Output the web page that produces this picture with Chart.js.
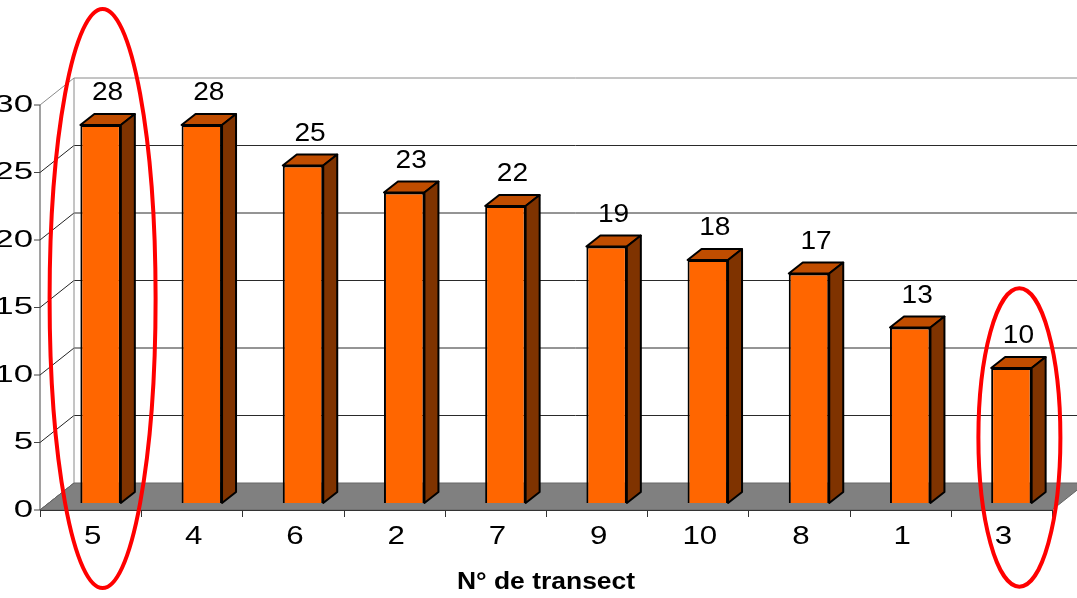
<!DOCTYPE html>
<html>
<head>
<meta charset="utf-8">
<script src="https://cdn.jsdelivr.net/npm/chart.js@4/dist/chart.umd.min.js"></script>
<style>
  html, body { margin: 0; padding: 0; background: #fff; }
  #chart { display: block; }
</style>
</head>
<body>
<canvas id="chart" width="1077" height="598"></canvas>
<script>
// transect numbers, sorted by count
const categories = ['5', '4', '6', '2', '7', '9', '10', '8', '1', '3'];
const counts = [28, 28, 25, 23, 22, 19, 18, 17, 13, 10];
const yTicks = [0, 5, 10, 15, 20, 25, 30];
const xTitle = 'N° de transect';

const FRONT = '#FF6600';
const SIDE = '#7F3300';
const TOP = '#C04D00';
const FONT = '"Liberation Sans", Arial, sans-serif';

// offsets of the front axis plane and back wall from the bar plane
const front = { dx: -10, dy: 7 };
const back = { dx: 24, dy: -20 };
const barDepth = { dx: 14, dy: 11 };

function line(ctx, x1, y1, x2, y2) {
  ctx.beginPath();
  ctx.moveTo(x1, y1);
  ctx.lineTo(x2, y2);
  ctx.stroke();
}

// Arial in the original looks stretched sideways, so scale x
function text(ctx, str, x, y, font, sx, align) {
  ctx.save();
  ctx.translate(x, y);
  ctx.scale(sx, 1);
  ctx.font = font;
  ctx.fillStyle = '#000';
  ctx.textAlign = align || 'center';
  ctx.textBaseline = 'middle';
  ctx.fillText(str, 0, 0);
  ctx.restore();
}

const box3d = {
  id: 'box3d',
  beforeDatasetsDraw(chart) {
    const { ctx, scales: { x, y } } = chart;
    const left = x.left;
    const y0 = y.getPixelForValue(0);
    const yTop = y.getPixelForValue(yTicks[yTicks.length - 1]);
    const catW = x.width / categories.length;
    ctx.save();
    ctx.lineWidth = 1;

    // back wall gridlines + left wall diagonals
    yTicks.forEach(v => {
      const py = y.getPixelForValue(v);
      ctx.strokeStyle = v === yTicks[yTicks.length - 1] ? '#8a8a8a' : '#2a2a2a';
      if (v > 0) line(ctx, left + back.dx, py + back.dy, chart.width, py + back.dy);
      ctx.strokeStyle = v === yTicks[yTicks.length - 1] ? '#8a8a8a' : '#222';
      line(ctx, left + front.dx, py + front.dy, left + back.dx, py + back.dy);
      ctx.strokeStyle = '#444';
      line(ctx, left + front.dx - 6, py + front.dy, left + front.dx, py + front.dy);
      text(ctx, String(v), left + front.dx - 7, py + front.dy, '24px ' + FONT, 1.45, 'right');
    });

    // back wall left edge
    ctx.strokeStyle = '#8a8a8a';
    line(ctx, left + back.dx, y0 + back.dy, left + back.dx, yTop + back.dy);

    // floor
    const fl = left + front.dx, fr = x.right + front.dx;
    ctx.fillStyle = '#808080';
    ctx.beginPath();
    ctx.moveTo(fl, y0 + front.dy);
    ctx.lineTo(fr, y0 + front.dy);
    ctx.lineTo(fr + back.dx - front.dx, y0 + back.dy);
    ctx.lineTo(fl + back.dx - front.dx, y0 + back.dy);
    ctx.closePath();
    ctx.fill();
    ctx.strokeStyle = '#666';
    ctx.stroke();

    // front axis
    ctx.strokeStyle = '#444';
    line(ctx, fl, y0 + front.dy, fl, yTop + front.dy);
    ctx.strokeStyle = '#333';
    line(ctx, fl, y0 + front.dy + 0.5, fr, y0 + front.dy + 0.5);

    // category ticks and labels
    for (let i = 0; i <= categories.length; i++) {
      const px = Math.round(fl + i * catW) + 0.5;
      line(ctx, px, y0 + front.dy, px, y0 + front.dy + 7);
    }
    categories.forEach((c, i) => {
      const px = x.getPixelForValue(i) + front.dx + 2;
      text(ctx, c, px, y0 + 34, '25px ' + FONT, 1.25);
    });

    text(ctx, xTitle, (fl + fr) / 2, y0 + 80, 'bold 23px ' + FONT, 1.15);
    ctx.restore();
  },
  afterDatasetsDraw(chart) {
    const { ctx } = chart;
    const meta = chart.getDatasetMeta(0);
    ctx.save();
    ctx.lineWidth = 2;
    ctx.strokeStyle = '#000';
    ctx.lineJoin = 'round';
    meta.data.forEach((bar, i) => {
      const l = bar.x - bar.width / 2, r = bar.x + bar.width / 2;
      const t = bar.y, b = bar.base;
      // top face
      ctx.fillStyle = TOP;
      ctx.beginPath();
      ctx.moveTo(l, t);
      ctx.lineTo(r, t);
      ctx.lineTo(r + barDepth.dx, t - barDepth.dy);
      ctx.lineTo(l + barDepth.dx, t - barDepth.dy);
      ctx.closePath();
      ctx.fill();
      ctx.stroke();
      // side face
      ctx.fillStyle = SIDE;
      ctx.beginPath();
      ctx.moveTo(r, t);
      ctx.lineTo(r + barDepth.dx, t - barDepth.dy);
      ctx.lineTo(r + barDepth.dx, b - barDepth.dy);
      ctx.lineTo(r, b);
      ctx.closePath();
      ctx.fill();
      ctx.stroke();
      // value label
      text(ctx, String(counts[i]), bar.x + 7, t - 32, '26px ' + FONT, 1.08);
    });
    ctx.restore();
  },
  afterDraw(chart, args, opts) {
    const { ctx, scales: { y } } = chart;
    const meta = chart.getDatasetMeta(0);
    ctx.save();
    ctx.strokeStyle = '#FF0000';
    ctx.lineWidth = 4;
    (opts.rings || []).forEach(ring => {
      const bar = meta.data[ring.index];
      const top = y.getPixelForValue(ring.to);
      const bottom = y.getPixelForValue(ring.from);
      ctx.beginPath();
      ctx.ellipse(bar.x + ring.dx, (top + bottom) / 2, ring.rx, (bottom - top) / 2, 0, 0, Math.PI * 2);
      ctx.stroke();
    });
    ctx.restore();
  }
};

const ctx = document.getElementById('chart').getContext('2d');
new Chart(ctx, {
  type: 'bar',
  data: {
    labels: categories,
    datasets: [{
      data: counts,
      backgroundColor: FRONT,
      borderColor: '#000',
      borderWidth: 2,
      barPercentage: 0.4,
      categoryPercentage: 1
    }]
  },
  options: {
    responsive: false,
    animation: false,
    layout: { padding: { left: 50, right: 15, top: 98, bottom: 95 } },
    plugins: {
      legend: { display: false },
      tooltip: { enabled: false },
      box3d: {
        // red circles round the highest and lowest transect
        rings: [
          { index: 0, dx: 2, from: -6.3, to: 36.6, rx: 53 },
          { index: 9, dx: 8, from: -6.2, to: 15.9, rx: 41 }
        ]
      }
    },
    scales: {
      x: { display: false },
      y: { display: false, min: 0, max: 30 }
    }
  },
  plugins: [box3d]
});
</script>
</body>
</html>
